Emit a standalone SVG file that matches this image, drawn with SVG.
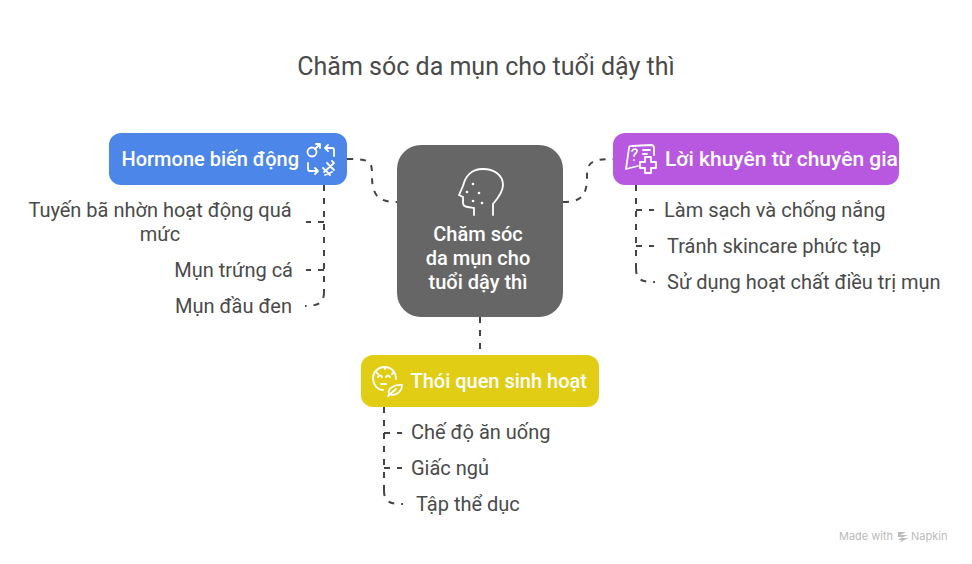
<svg xmlns="http://www.w3.org/2000/svg" width="972" height="564" viewBox="0 0 972 564">
<style>
text{font-family:Roboto,"Noto Sans",sans-serif}
.t{font-size:25px;fill:#4a4a4a;text-anchor:middle}
.h{font-size:20px;font-weight:500;fill:#fff}
.c{font-size:20px;font-weight:500;fill:#fff;text-anchor:middle}
.l{font-size:20px;fill:#4a4a4a}
.d{fill:none;stroke:#444;stroke-width:2;stroke-dasharray:6 7}
.i{fill:none;stroke:#fff;stroke-width:1.8;stroke-linecap:round;stroke-linejoin:round}
.dot{fill:#fff}
</style>
<rect width="972" height="564" fill="#fff"/>
<text class="t" x="486" y="75">Chăm sóc da mụn cho tuổi dậy thì</text>
<g id="connectors">
<path class="d" d="M347 159C372 159 372 162 372 176C372 195 378 202 397 202"/>
<path class="d" d="M563 202C582 202 587 195 587 176C587 162 592 159 613 159"/>
<path class="d" d="M480 317V355"/>
<path class="d" d="M324 185V292"/>
<path class="d" d="M324 222H306"/>
<path class="d" d="M324 270H306"/>
<path class="d" d="M324 292C324 302 320 306 305 306"/>
<path class="d" d="M636 185V268"/>
<path class="d" d="M636 210H654"/>
<path class="d" d="M636 246H654"/>
<path class="d" d="M636 268C636 279 640 282 655 282"/>
<path class="d" d="M384 407V490"/>
<path class="d" d="M384 433H402"/>
<path class="d" d="M384 468H402"/>
<path class="d" d="M384 490C384 501 388 504 403 504"/>
</g>
<g id="node-center">
<rect x="397" y="145" width="166" height="172" rx="24" fill="#666"/>
<path class="i" d="M493 215V204C499 197 503 191 503 185C503 175 494 169 483 169C471 169 465 177 463 186L459 195L463 197V203C463 207 467 207 474 208V215"/>
<g class="dot"><circle cx="473" cy="184" r="1.3"/><circle cx="467" cy="192" r="1.3"/><circle cx="479" cy="193" r="1.3"/><circle cx="473" cy="201" r="1.3"/><circle cx="482" cy="203" r="1.3"/></g>
<text class="c" x="478" y="241">Chăm sóc</text>
<text class="c" x="478" y="265">da mụn cho</text>
<text class="c" x="478" y="289">tuổi dậy thì</text>
</g>
<g id="node-hormone">
<rect x="109" y="133" width="238" height="52" rx="12" fill="#4c86e8"/>
<text class="h" x="121.5" y="166">Hormone biến động</text>
<g class="i">
<circle cx="312" cy="152" r="4.5"/><path d="M315 149L320 144M316 144H320V148"/>
<path d="M325 148H332C333 148 334 149 334 150V156M325 148L328 145M325 148L328 151"/>
<path d="M308 163V169C308 170 309 171 310 171H318M318 171L315 168M318 171L315 174"/>
<path d="M324 172L333 164M323 168L330 175M327 163L334 170M325 175L332 172M332 161L334 163"/>
</g>
</g>
<g id="node-advice">
<rect x="613" y="133" width="286" height="52" rx="12" fill="#b858e0"/>
<text class="h" x="665" y="166" style="font-size:21px">Lời khuyên từ chuyên gia</text>
<g class="i">
<path d="M638 166L626 169L629 148C629 146 630 146 632 146L651 145C653 145 654 146 654 148V155"/>
<path d="M632 151C634 148 637 149 637 151C637 153 634 154 634 156M634 160V160"/>
<path d="M643 150H650M643 154H647"/>
<path d="M645 157H651V162H656V168H651V173H645V168H640V162H645Z" fill="#b858e0"/>
</g>
</g>
<g id="node-habits">
<rect x="361" y="355" width="238" height="52" rx="12" fill="#e0cd14"/>
<text class="h" x="410.5" y="388">Thói quen sinh hoạt</text>
<g class="i">
<path d="M383 390C377 390 373 384 373 378C373 372 378 367 385 367C391 367 396 372 396 379"/>
<path d="M378 377C379 375 381 375 382 377M386 377C387 375 389 375 390 377M381 384H386M376 372L378 374M385 367V369M394 372L392 374"/>
<path d="M389 394C387 389 394 384 402 385C402 391 396 397 389 394ZM388 396L396 389"/>
</g>
</g>
<g id="items">
<text class="l" x="160" y="217" text-anchor="middle">Tuyến bã nhờn hoạt động quá</text>
<text class="l" x="160" y="241" text-anchor="middle">mức</text>
<text class="l" x="293" y="277" text-anchor="end">Mụn trứng cá</text>
<text class="l" x="292" y="313" text-anchor="end">Mụn đầu đen</text>
<text class="l" x="664" y="217">Làm sạch và chống nắng</text>
<text class="l" x="667" y="253">Tránh skincare phức tạp</text>
<text class="l" x="667" y="289">Sử dụng hoạt chất điều trị mụn</text>
<text class="l" x="411" y="439">Chế độ ăn uống</text>
<text class="l" x="411" y="475">Giấc ngủ</text>
<text class="l" x="416" y="511">Tập thể dục</text>
</g>
<g id="watermark">
<text x="839" y="540" style="font-size:11px;fill:#bbb;font-family:Inter,Roboto,sans-serif">Made with</text>
<path d="M898 532H906L900 535H908L901 538H908L899 543L902 540H898L902 537H898Z" fill="#bbb"/>
<text x="911" y="540" style="font-size:11px;fill:#bbb;font-family:Inter,Roboto,sans-serif">Napkin</text>
</g>
</svg>
